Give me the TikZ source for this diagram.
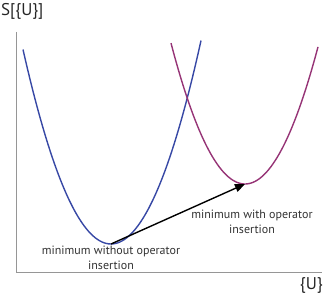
\documentclass[tikz,border=0pt]{standalone}
\usepackage{fontspec}
\setmainfont{PT Sans}
\usetikzlibrary{arrows.meta}
\definecolor{curveblue}{RGB}{55,72,165}
\definecolor{curvepurple}{RGB}{150,52,118}
\definecolor{axisgray}{RGB}{150,150,150}
\begin{document}
\begin{tikzpicture}[x=1pt,y=-1pt,
  axisline/.style={draw=axisgray,line width=1pt},
  curveline/.style={line width=1.4pt},
  lbl/.style={font=\fontsize{12}{15}\selectfont,align=center,text=black!80,inner sep=0pt},
  axlbl/.style={font=\fontsize{17}{17}\selectfont,inner sep=0pt,text=black!85}]
\useasboundingbox (0,0) rectangle (332,302);
\coordinate (origin) at (16,272);
\coordinate (ytop) at (16,32);
\coordinate (xend) at (322,272);
\draw[axisline] (ytop) -- (origin) -- (xend);
\node[axlbl,anchor=north west] (slabel) at (1,3) {S[\{U\}]};
\node[axlbl,anchor=north east] (ulabel) at (323,277) {\{U\}};
% curves
\draw[curveline,curveblue] plot[domain=-88:90,samples=80,smooth] ({111+\x},{244-0.02512*\x*\x});
\draw[curveline,curvepurple] plot[domain=-74:73,samples=80,smooth] ({245+\x},{184-0.02573*\x*\x});
\coordinate (vmin) at (111,244);
\coordinate (vmin2) at (245,184);
\draw[line width=1.4pt,-{Triangle[length=10pt,width=8pt]}] (vmin) -- (vmin2);
\node[lbl] (lbla) at (111,258) {minimum without operator\\insertion};
\node[lbl] (lblb) at (252,221.5) {minimum with operator\\insertion};
\end{tikzpicture}
\end{document}
